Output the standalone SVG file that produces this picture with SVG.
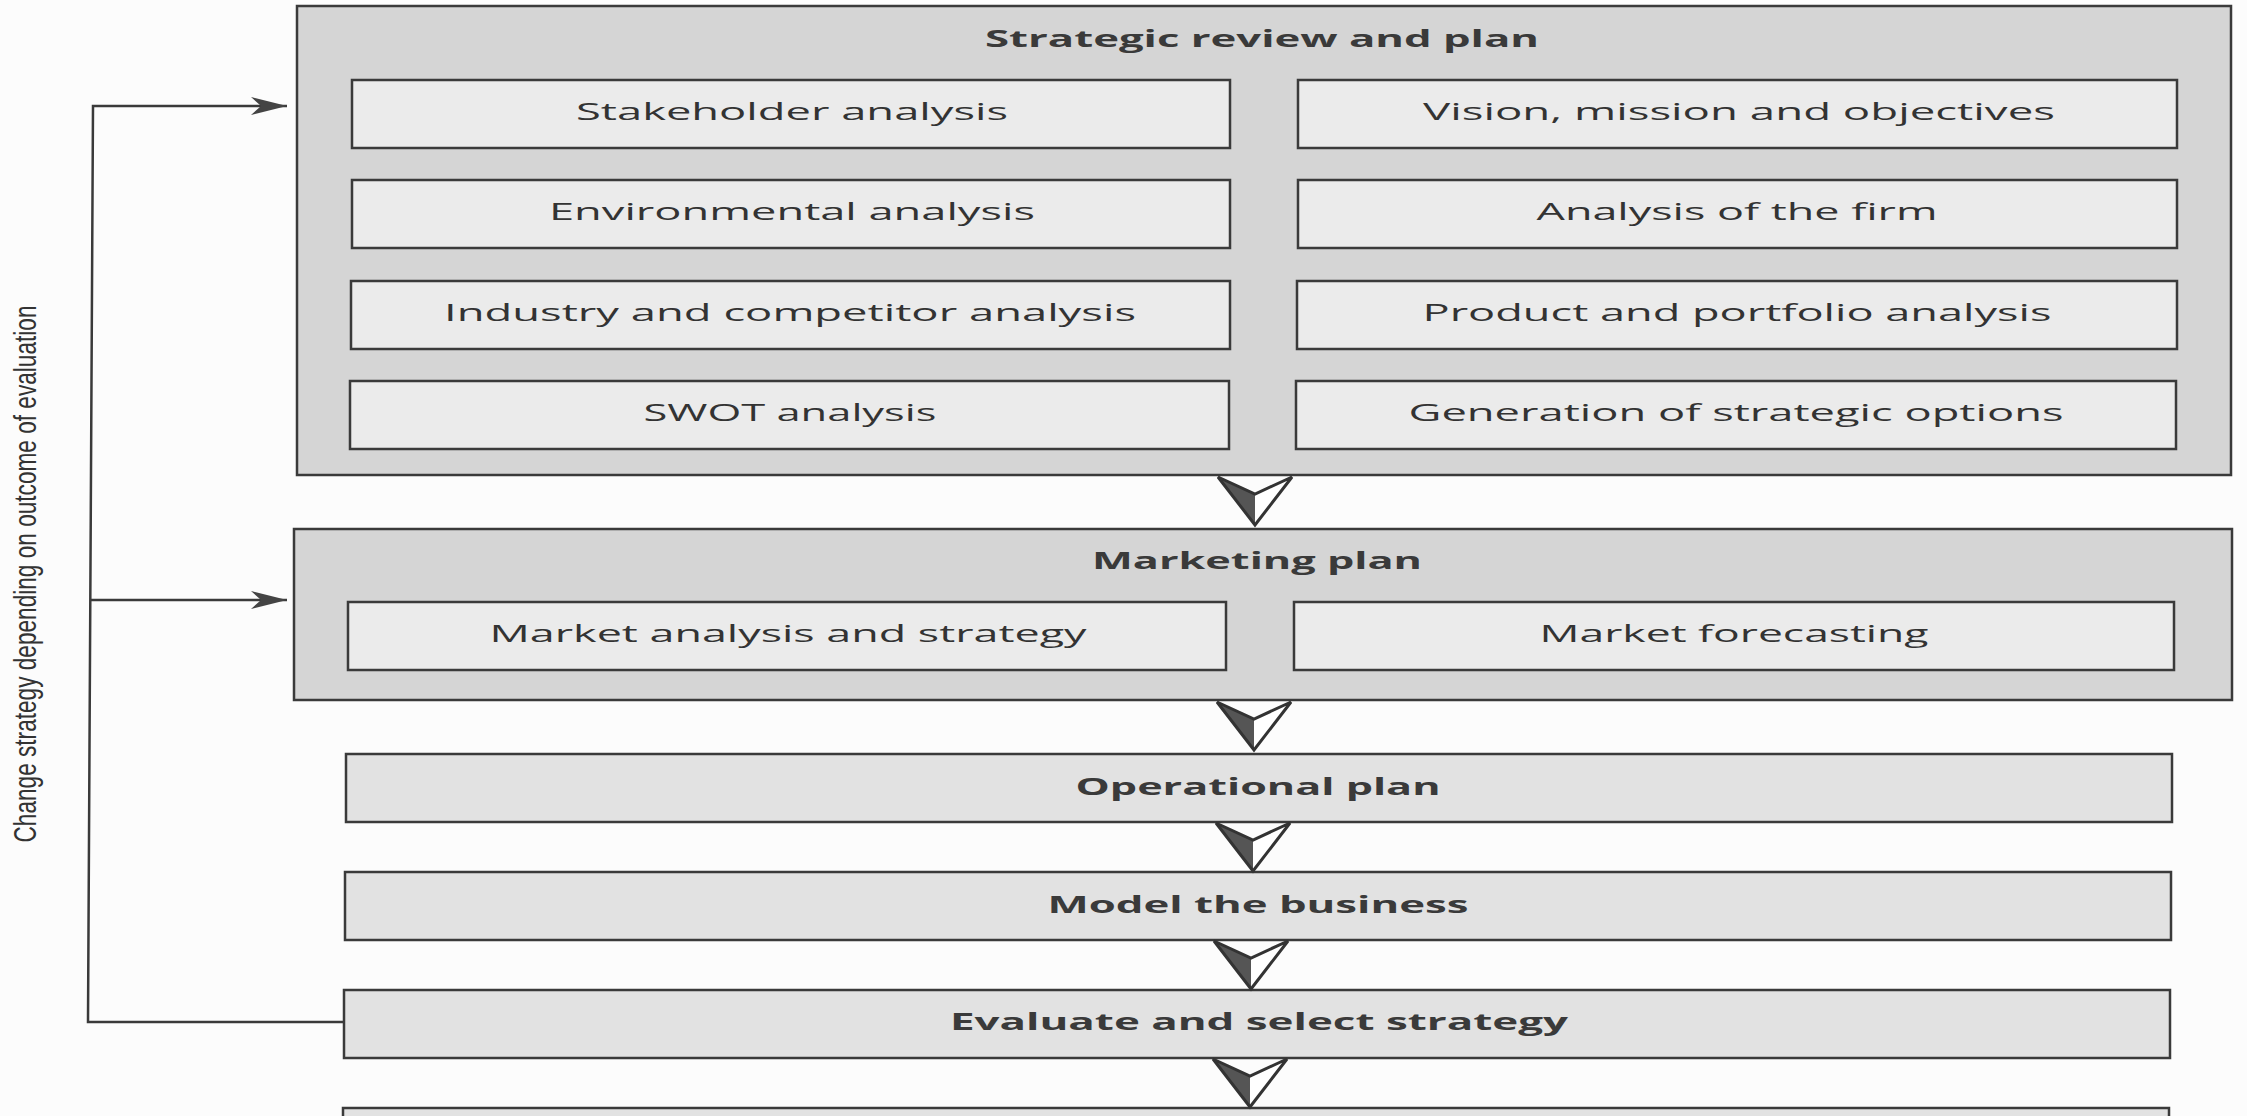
<svg xmlns="http://www.w3.org/2000/svg" width="2247" height="1116" viewBox="0 0 2247 1116">
<style>
.outer{fill:#d5d5d5;stroke:#3a3a3a;stroke-width:2.5}
.inner{fill:#ebebeb;stroke:#3a3a3a;stroke-width:2.5}
.single{fill:#e2e2e2;stroke:#3a3a3a;stroke-width:2.5}
.t{font-family:"Open Sans","Noto Sans","Liberation Sans",sans-serif;font-size:23px;fill:#333;text-anchor:middle}
.b{font-family:"Open Sans","Noto Sans","Liberation Sans",sans-serif;font-size:24px;font-weight:bold;fill:#3a3a3a;text-anchor:middle}
.side{font-family:"Liberation Sans","DejaVu Sans",sans-serif;font-size:32px;fill:#333;text-anchor:middle}
.line{fill:none;stroke:#3a3a3a;stroke-width:2.5}
</style>
<defs>
<g id="down">
<polygon points="-37,0 0,17 0,48" fill="#555"/>
<polygon points="0,17 37,0 0,48" fill="#fff"/>
<polygon points="-37,0 0,17 37,0 0,48" fill="none" stroke="#333" stroke-width="3" stroke-linejoin="miter"/>
</g>
<marker id="barb" markerWidth="38" markerHeight="20" refX="36" refY="10" orient="auto" markerUnits="userSpaceOnUse">
<path d="M0,1 L36,10 L0,19 L10,10 Z" fill="#444"/>
</marker>
</defs>
<rect width="2247" height="1116" fill="#fcfcfc"/>

<g id="strategic-review">
<rect class="outer" x="297" y="6" width="1934" height="469"/>
<text class="b" x="1262" y="47" textLength="554" lengthAdjust="spacingAndGlyphs">Strategic review and plan</text>
</g>
<g id="stakeholder-analysis">
<rect class="inner" x="352" y="80" width="878" height="68"/>
<text class="t" x="792" y="120" textLength="432" lengthAdjust="spacingAndGlyphs">Stakeholder analysis</text>
</g>
<g id="vision-mission">
<rect class="inner" x="1298" y="80" width="879" height="68"/>
<text class="t" x="1739" y="120" textLength="632" lengthAdjust="spacingAndGlyphs">Vision, mission and objectives</text>
</g>
<g id="environmental-analysis">
<rect class="inner" x="352" y="180" width="878" height="68"/>
<text class="t" x="792" y="220" textLength="486" lengthAdjust="spacingAndGlyphs">Environmental analysis</text>
</g>
<g id="analysis-of-firm">
<rect class="inner" x="1298" y="180" width="879" height="68"/>
<text class="t" x="1737" y="220" textLength="401" lengthAdjust="spacingAndGlyphs">Analysis of the firm</text>
</g>
<g id="industry-competitor">
<rect class="inner" x="351" y="281" width="879" height="68"/>
<text class="t" x="790" y="321" textLength="692" lengthAdjust="spacingAndGlyphs">Industry and competitor analysis</text>
</g>
<g id="product-portfolio">
<rect class="inner" x="1297" y="281" width="880" height="68"/>
<text class="t" x="1737" y="321" textLength="629" lengthAdjust="spacingAndGlyphs">Product and portfolio analysis</text>
</g>
<g id="swot-analysis">
<rect class="inner" x="350" y="381" width="879" height="68"/>
<text class="t" x="790" y="421" textLength="293" lengthAdjust="spacingAndGlyphs">SWOT analysis</text>
</g>
<g id="strategic-options">
<rect class="inner" x="1296" y="381" width="880" height="68"/>
<text class="t" x="1736" y="421" textLength="655" lengthAdjust="spacingAndGlyphs">Generation of strategic options</text>
</g>

<g id="marketing-plan">
<rect class="outer" x="294" y="529" width="1938" height="171"/>
<text class="b" x="1257" y="569" textLength="330" lengthAdjust="spacingAndGlyphs">Marketing plan</text>
</g>
<g id="market-analysis">
<rect class="inner" x="348" y="602" width="878" height="68"/>
<text class="t" x="788" y="642" textLength="597" lengthAdjust="spacingAndGlyphs">Market analysis and strategy</text>
</g>
<g id="market-forecasting">
<rect class="inner" x="1294" y="602" width="880" height="68"/>
<text class="t" x="1734" y="642" textLength="389" lengthAdjust="spacingAndGlyphs">Market forecasting</text>
</g>

<g id="operational-plan">
<rect class="single" x="346" y="754" width="1826" height="68"/>
<text class="b" x="1258" y="795" textLength="365" lengthAdjust="spacingAndGlyphs">Operational plan</text>
</g>
<g id="model-business">
<rect class="single" x="345" y="872" width="1826" height="68"/>
<text class="b" x="1258" y="913" textLength="421" lengthAdjust="spacingAndGlyphs">Model the business</text>
</g>
<g id="evaluate-strategy">
<rect class="single" x="344" y="990" width="1826" height="68"/>
<text class="b" x="1259" y="1030" textLength="618" lengthAdjust="spacingAndGlyphs">Evaluate and select strategy</text>
</g>
<g id="next-step">
<rect class="single" x="343" y="1108" width="1826" height="40"/>
</g>

<g id="connectors">
<use href="#down" x="1255" y="477"/>
<use href="#down" x="1254" y="702"/>
<use href="#down" x="1253" y="823"/>
<use href="#down" x="1251" y="941"/>
<use href="#down" x="1250" y="1059"/>
<polyline class="line" points="344,1022 88,1022 93,106 287,106" marker-end="url(#barb)"/>
<line class="line" x1="91" y1="600" x2="287" y2="600" marker-end="url(#barb)"/>
<text class="side" transform="translate(36,574) rotate(-90)" textLength="537" lengthAdjust="spacingAndGlyphs">Change strategy depending on outcome of evaluation</text>
</g>
</svg>
